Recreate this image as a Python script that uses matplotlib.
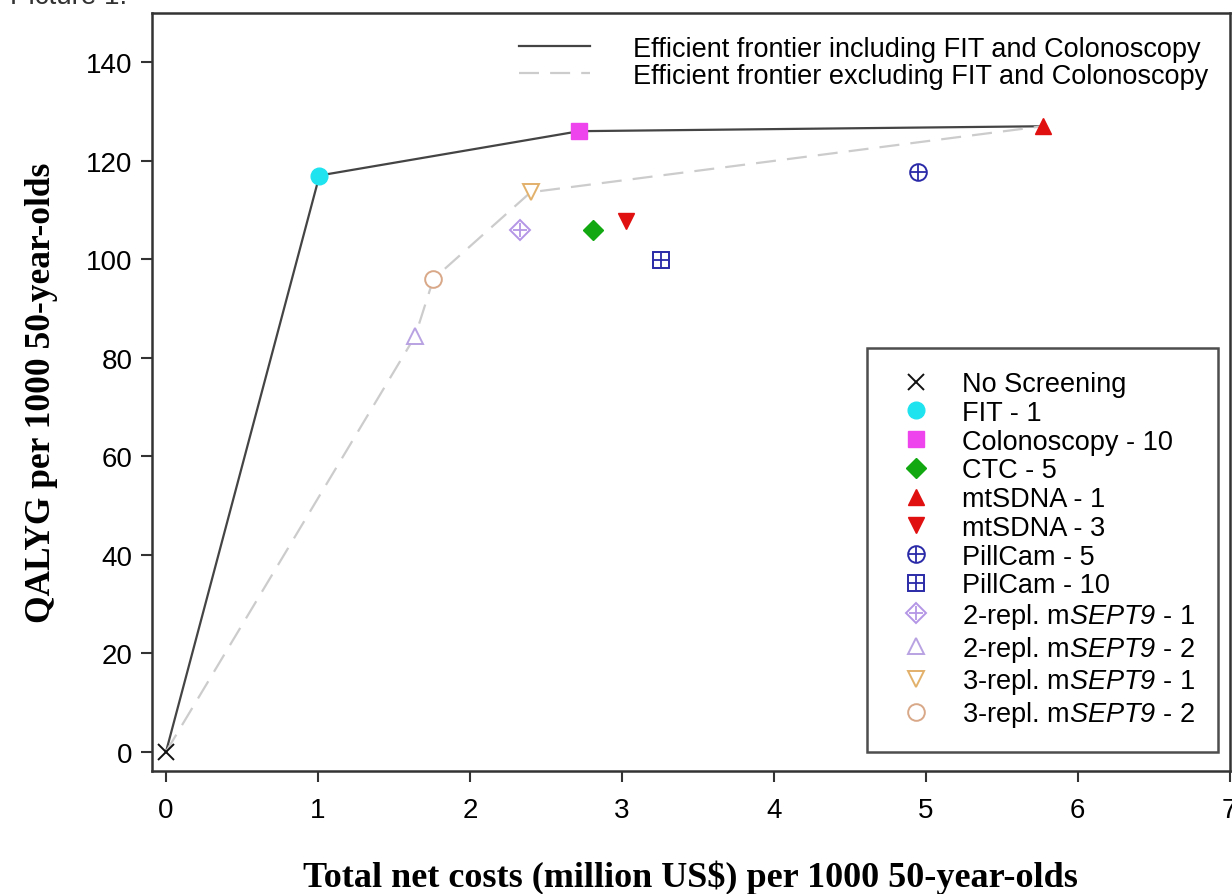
import matplotlib.pyplot as plt

# all of "SEPT9" (digit too) in italic: mathrm mapped to the italic face
plt.rcParams['mathtext.fontset'] = 'custom'
plt.rcParams['mathtext.rm'] = 'Liberation Sans:italic'
plt.rcParams['mathtext.it'] = 'Liberation Sans:italic'

# strategies: (cost in million US$, QALYG) per 1000 50-year-olds
names = ["No Screening", "FIT - 1", "Colonoscopy - 10", "CTC - 5", "mtSDNA - 1",
         "mtSDNA - 3", "PillCam - 5", "PillCam - 10",
         "2-repl. m$\\mathrm{SEPT9}$ - 1", "2-repl. m$\\mathrm{SEPT9}$ - 2",
         "3-repl. m$\\mathrm{SEPT9}$ - 1", "3-repl. m$\\mathrm{SEPT9}$ - 2"]
costs = [0.0, 1.01, 2.72, 2.81, 5.77, 3.03, 4.95, 3.26, 2.33, 1.64, 2.40, 1.76]
qalyg = [0.0, 117.0, 126.0, 106.0, 127.0, 107.7, 117.8, 99.8, 106.0, 84.4, 113.6, 96.0]

# frontiers (indices into the lists above)
front_incl = [0, 1, 2, 4]
front_excl = [0, 9, 11, 10, 4]

# marker styles: (marker, color, filled, overlay marker)
styles = [
    ("x", "#111111", True, None),
    ("o", "#1fe3ef", True, None),
    ("s", "#ee44ee", True, None),
    ("D", "#11a811", True, None),
    ("^", "#e01010", True, None),
    ("v", "#e01010", True, None),
    ("o", "#2a2aa8", False, "+"),
    ("s", "#2a2aa8", False, "+"),
    ("D", "#b496e6", False, "+"),
    ("^", "#b9a2e2", False, None),
    ("v", "#e2b06a", False, None),
    ("o", "#d8a888", False, None),
]
sizes = {"x": 12, "o": 12, "s": 11, "D": 10, "^": 12, "v": 12}

plt.rcParams['font.family'] = ['Liberation Sans', 'DejaVu Sans']
fig = plt.figure(figsize=(12.32, 8.95), dpi=100)
ax = fig.add_axes([0.1234, 0.1374, 0.8746, 0.8470])

l1, = ax.plot([costs[i] for i in front_incl], [qalyg[i] for i in front_incl],
              color="#444444", lw=1.6, zorder=1)
l2, = ax.plot([costs[i] for i in front_excl], [qalyg[i] for i in front_excl],
              color="#cccccc", lw=1.6, dashes=(9, 5), zorder=1)

handles = []
for x, y, (m, c, filled, over) in zip(costs, qalyg, styles):
    ms = sizes[m]
    if m == "x":
        h = ax.plot(x, y, ls="none", marker=m, color=c, ms=ms, mew=1.4, zorder=3)[0]
    elif filled:
        h = ax.plot(x, y, ls="none", marker=m, color=c, mec=c, ms=ms, zorder=3)[0]
    else:
        h = ax.plot(x, y, ls="none", marker=m, mfc="white", mec=c, ms=ms,
                    mew=1.4, zorder=3)[0]
    if over:
        h2 = ax.plot(x, y, ls="none", marker=over, color=c, ms=ms * 0.95,
                     mew=1.3, zorder=4)[0]
        h = (h, h2)
    handles.append(h)

ax.set_xlim(-0.092, 7.0)
ax.set_ylim(-3.9, 150)
ax.set_xticks(range(0, 8))
ax.set_yticks(range(0, 141, 20))
ax.tick_params(axis="both", labelsize=20, length=8, width=1.5, color="#333333",
               direction="out")
ax.tick_params(axis="x", pad=11)
ax.tick_params(axis="y", pad=6)
for s in ax.spines.values():
    s.set_color("#333333")
    s.set_linewidth(1.8)

ax.set_xlabel("Total net costs (million US$) per 1000 50-year-olds",
              family="Liberation Serif", fontweight="bold", fontsize=26, labelpad=26)
ax.set_ylabel("QALYG per 1000 50-year-olds",
              family="Liberation Serif", fontweight="bold", fontsize=25.5, labelpad=20)

leg1 = ax.legend([l1, l2], ["Efficient frontier including FIT and Colonoscopy",
                            "Efficient frontier excluding FIT and Colonoscopy"],
                 loc="upper left", frameon=False, fontsize=19.5, handlelength=2.6,
                 handletextpad=1.6, labelspacing=0.03, borderpad=0,
                 borderaxespad=0, bbox_to_anchor=(0.341, 0.970))
ax.add_artist(leg1)

leg2 = ax.legend(handles, names, loc="lower right", fontsize=19.5,
                 labelspacing=0.1, handletextpad=0.75, borderpad=0.85,
                 handlelength=1.9, fancybox=False, borderaxespad=0,
                 bbox_to_anchor=(0.9889, 0.0250))
leg2.get_frame().set_edgecolor("#222222")
leg2.get_frame().set_linewidth(1.8)

fig.text(10 / 1232, 1 - 4 / 895, "Picture 1.", fontsize=20, va="baseline",
         color="#333333")

fig.savefig("out.png", dpi=100)
